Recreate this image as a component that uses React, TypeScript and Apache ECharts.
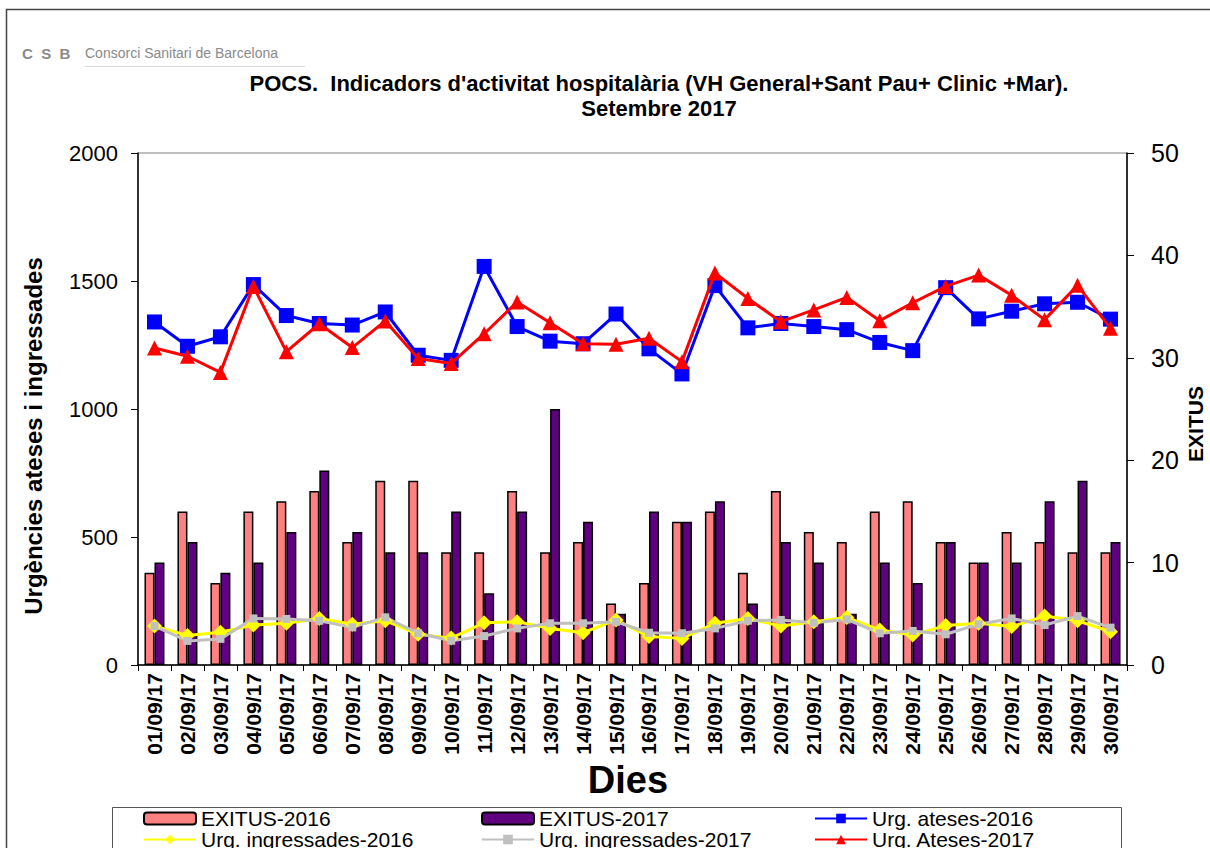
import React, { useEffect, useRef } from "react";
import * as echarts from "echarts";

const days = [
  "01/09/17", "02/09/17", "03/09/17", "04/09/17", "05/09/17", "06/09/17", "07/09/17", "08/09/17", "09/09/17", "10/09/17",
  "11/09/17", "12/09/17", "13/09/17", "14/09/17", "15/09/17", "16/09/17", "17/09/17", "18/09/17", "19/09/17", "20/09/17",
  "21/09/17", "22/09/17", "23/09/17", "24/09/17", "25/09/17", "26/09/17", "27/09/17", "28/09/17", "29/09/17", "30/09/17",
];

const exitus2016 = [9, 15, 8, 15, 16, 17, 12, 18, 18, 11, 11, 17, 11, 12, 6, 8, 14, 15, 9, 17, 13, 12, 15, 16, 12, 10, 13, 12, 11, 11];
const exitus2017 = [10, 12, 9, 10, 13, 19, 13, 11, 11, 15, 7, 15, 25, 14, 5, 15, 14, 16, 6, 12, 10, 5, 10, 8, 12, 10, 10, 16, 18, 12];

const urgAteses2016 = [1340, 1245, 1282, 1486, 1365, 1334, 1328, 1379, 1210, 1190, 1557, 1322, 1265, 1255, 1371, 1235, 1137, 1482, 1317, 1334, 1322, 1310, 1260, 1228, 1474, 1352, 1382, 1411, 1417, 1351];
const urgIngressades2016 = [152, 115, 128, 156, 163, 182, 159, 173, 120, 105, 165, 169, 143, 126, 176, 111, 104, 163, 182, 152, 169, 186, 137, 117, 154, 163, 150, 191, 173, 130];
const urgIngressades2017 = [152, 94, 102, 182, 180, 173, 147, 186, 124, 95, 113, 143, 163, 163, 169, 126, 124, 143, 173, 176, 165, 178, 124, 133, 120, 159, 182, 156, 191, 146];
const urgAteses2017 = [1238, 1206, 1143, 1479, 1224, 1333, 1240, 1344, 1197, 1178, 1294, 1418, 1337, 1255, 1253, 1276, 1185, 1531, 1432, 1341, 1387, 1436, 1345, 1415, 1479, 1523, 1444, 1349, 1483, 1315];

const titleLine1 = "POCS.  Indicadors d'activitat hospitalària (VH General+Sant Pau+ Clinic +Mar).";
const titleLine2 = "Setembre 2017";
const leftAxisName = "Urgències ateses i ingressades";
const rightAxisName = "EXITUS";
const xAxisName = "Dies";

const FONT = "Arial, 'Liberation Sans', sans-serif";

export default function App() {
  const ref = useRef<HTMLDivElement>(null);

  useEffect(() => {
    if (!ref.current) return;
    const chart = echarts.init(ref.current, undefined, { renderer: "svg" });

    const legendText = { fontFamily: FONT, fontSize: 21, lineHeight: 20, color: "#000" };
    const mkLegend = (name: string, left: number, top: number) => ({
      data: [name],
      left,
      top,
      padding: 0,
      itemWidth: 52,
      itemHeight: 12,
      itemGap: 4,
      textStyle: legendText,
    });

    const lineSeries = (
      name: string,
      data: number[],
      color: string,
      symbol: string,
      symbolSize: number,
      z: number
    ) => ({
      name,
      type: "line",
      yAxisIndex: 0,
      data,
      symbol,
      symbolSize,
      z,
      lineStyle: { color, width: 3 },
      itemStyle: { color, borderWidth: 0 },
      emphasis: { disabled: true },
    });

    const plain = (v: number) => String(v);

    const titleText = (text: string, y: number) => ({
      type: "text",
      x: 659,
      y,
      style: {
        text,
        fontFamily: FONT,
        fontSize: 22,
        fontWeight: "bold",
        fill: "#000",
        align: "center",
        verticalAlign: "middle",
      },
      silent: true,
    });

    chart.setOption({
      animation: false,
      backgroundColor: "#fff",
      textStyle: { fontFamily: FONT },
      grid: {
        left: 138,
        right: 83,
        top: 153,
        bottom: 183,
        show: true,
        borderColor: "#808080",
        borderWidth: 1,
      },
      legend: [
        mkLegend("EXITUS-2016", 143, 808),
        mkLegend("EXITUS-2017", 481, 808),
        mkLegend("Urg. ateses-2016", 814, 808),
        mkLegend("Urg. ingressades-2016", 143, 829),
        mkLegend("Urg. ingressades-2017", 481, 829),
        mkLegend("Urg. Ateses-2017", 814, 829),
      ],
      xAxis: {
        type: "category",
        data: days,
        boundaryGap: true,
        axisLine: { lineStyle: { color: "#000", width: 1.5 } },
        axisTick: { show: true, interval: 0, length: 6, lineStyle: { color: "#000" } },
        axisLabel: {
          interval: 0,
          rotate: 90,
          margin: 8,
          fontFamily: FONT,
          fontSize: 21,
          fontWeight: "bold",
          color: "#000",
        },
      },
      yAxis: [
        {
          type: "value",
          min: 0,
          max: 2000,
          interval: 500,
          axisLine: { show: true, lineStyle: { color: "#000", width: 1.5 } },
          axisTick: { show: true, length: 7, lineStyle: { color: "#000" } },
          axisLabel: { fontFamily: FONT, fontSize: 22, color: "#000", margin: 20, formatter: plain },
          splitLine: { show: false },
        },
        {
          type: "value",
          min: 0,
          max: 50,
          interval: 10,
          position: "right",
          axisLine: { show: true, lineStyle: { color: "#000", width: 1.5 } },
          axisTick: { show: true, length: 7, lineStyle: { color: "#000" } },
          axisLabel: { fontFamily: FONT, fontSize: 25, color: "#000", margin: 24, formatter: plain },
          splitLine: { show: false },
        },
      ],
      series: [
        {
          name: "EXITUS-2016",
          type: "bar",
          yAxisIndex: 1,
          data: exitus2016,
          barWidth: 10,
          barGap: "0%",
          z: 1,
          itemStyle: { color: "#FF8080", borderColor: "#000", borderWidth: 1.5 },
          emphasis: { disabled: true },
        },
        {
          name: "EXITUS-2017",
          type: "bar",
          yAxisIndex: 1,
          data: exitus2017,
          barWidth: 10,
          barGap: "0%",
          z: 1,
          itemStyle: { color: "#600080", borderColor: "#000", borderWidth: 1.5 },
          emphasis: { disabled: true },
        },
        lineSeries("Urg. ateses-2016", urgAteses2016, "#0000FF", "rect", 15, 3),
        lineSeries("Urg. ingressades-2016", urgIngressades2016, "#FFFF00", "diamond", 15, 2),
        lineSeries("Urg. ingressades-2017", urgIngressades2017, "#C0C0C0", "rect", 8, 2),
        lineSeries("Urg. Ateses-2017", urgAteses2017, "#FF0000", "triangle", 15, 4),
      ],
      graphic: [
        {
          type: "rect",
          shape: { x: 6.5, y: 9.5, width: 1260, height: 900 },
          style: { fill: "none", stroke: "#444", lineWidth: 1.5 },
          silent: true,
        },
        {
          type: "rect",
          shape: { x: 112.5, y: 807.5, width: 1009, height: 60 },
          style: { fill: "none", stroke: "#555", lineWidth: 1 },
          silent: true,
        },
        {
          type: "text",
          x: 22,
          y: 53,
          style: {
            text: "C  S  B",
            fontFamily: FONT,
            fontSize: 15,
            fontWeight: "bold",
            fill: "#8a8a8a",
            verticalAlign: "middle",
          },
          silent: true,
        },
        {
          type: "text",
          x: 85,
          y: 53,
          style: {
            text: "Consorci Sanitari de Barcelona",
            fontFamily: FONT,
            fontSize: 14,
            fill: "#8a8a8a",
            verticalAlign: "middle",
          },
          silent: true,
        },
        {
          type: "line",
          shape: { x1: 85, y1: 66.5, x2: 305, y2: 66.5 },
          style: { stroke: "#d8d8d8", lineWidth: 1 },
          silent: true,
        },
        titleText(titleLine1, 83),
        titleText(titleLine2, 108),
        {
          type: "text",
          x: 33,
          y: 436,
          rotation: Math.PI / 2,
          style: {
            text: leftAxisName,
            fontFamily: FONT,
            fontSize: 24,
            fontWeight: "bold",
            fill: "#000",
            align: "center",
            verticalAlign: "middle",
          },
          silent: true,
        },
        {
          type: "text",
          x: 1195,
          y: 424,
          rotation: Math.PI / 2,
          style: {
            text: rightAxisName,
            fontFamily: FONT,
            fontSize: 21,
            fontWeight: "bold",
            fill: "#000",
            align: "center",
            verticalAlign: "middle",
          },
          silent: true,
        },
        {
          type: "text",
          x: 628,
          y: 780,
          style: {
            text: xAxisName,
            fontFamily: FONT,
            fontSize: 38,
            fontWeight: "bold",
            fill: "#000",
            align: "center",
            verticalAlign: "middle",
          },
          silent: true,
        },
      ],
    });

    return () => chart.dispose();
  }, []);

  return (
    <div
      ref={ref}
      style={{ position: "fixed", left: 0, top: 0, width: 1210, height: 848, background: "#fff" }}
    />
  );
}
